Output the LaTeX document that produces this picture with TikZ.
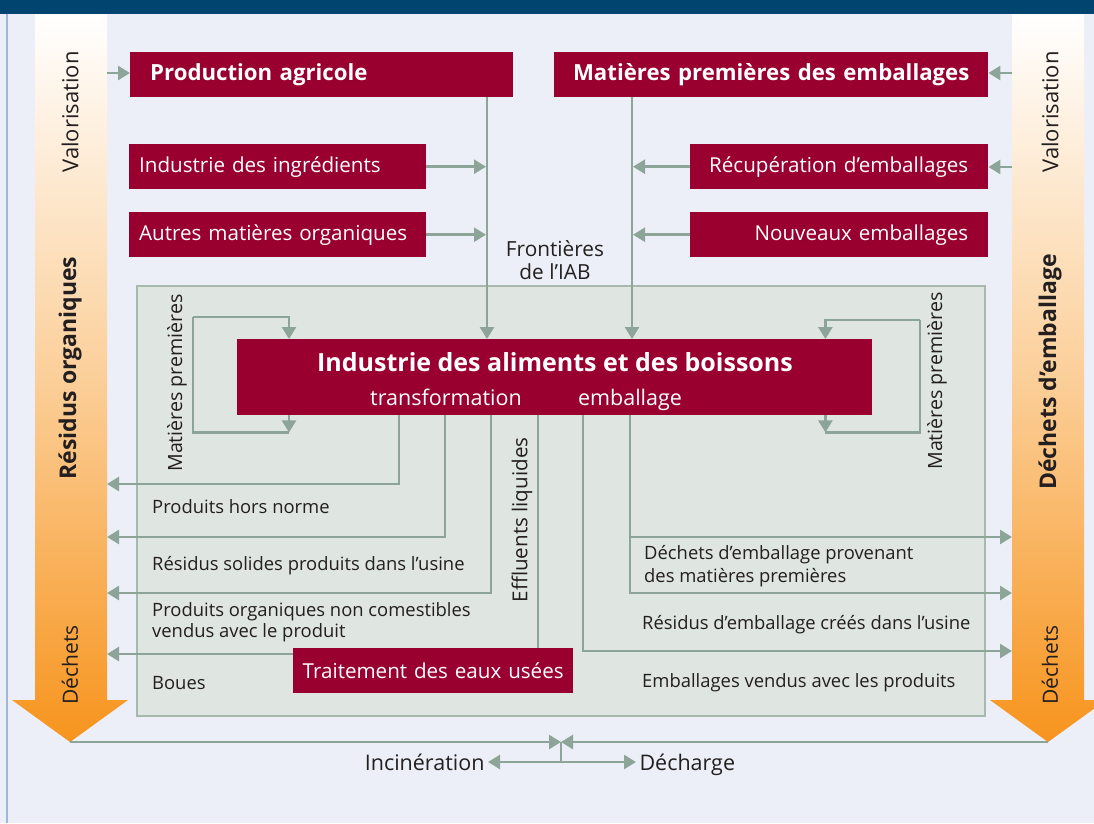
\documentclass[tikz,border=0pt]{standalone}
\usepackage{fontspec}
\setmainfont{Open Sans}
\usepackage{tikz}
\usetikzlibrary{arrows.meta}
\definecolor{crimson}{HTML}{99002F}
\definecolor{navy}{HTML}{00446F}
\definecolor{paper}{HTML}{ECEFF7}
\definecolor{panel}{HTML}{DFE5E0}
\definecolor{panelline}{HTML}{A7B8AD}
\definecolor{flowgreen}{HTML}{8DA598}
\definecolor{deeporange}{HTML}{F7941D}
\definecolor{ink}{HTML}{231F20}
\definecolor{edgeblue}{HTML}{A0B6E0}
\newcommand{\fs}[1]{\fontsize{#1}{1.25\dimexpr #1pt\relax}\selectfont}

\begin{document}
\begin{tikzpicture}[x=1pt, y=-1pt,
    redbox/.style={fill=crimson, text=white, anchor=north west, minimum height=45pt,
      inner ysep=0pt, inner xsep=10pt, font=\fs{20.6}},
    line/.style={draw=flowgreen, line width=2.6pt},
    flow/.style={line, -{Triangle[length=12pt, width=14pt]}},
    lbl/.style={text=ink, font=\fs{18.4}, inner sep=0pt},
    coltxt/.style={text=ink, font=\fs{22}, rotate=90}]
  \useasboundingbox (0,0) rectangle (1094,823);
  \fill[paper] (0,0) rectangle (1094,823);
  \fill[navy] (0,0) rectangle (1094,14);
  \draw[edgeblue, line width=1.2pt] (7,14) -- (7,823);

  % colonnes
  \shade[top color=white, bottom color=deeporange, middle color={deeporange!45}]
    (35,14) -- (107,14) -- (107,700) -- (128,700) -- (70,742) -- (12,700) -- (35,700) -- cycle;
  \shade[top color=white, bottom color=deeporange, middle color={deeporange!45}]
    (1012,14) -- (1084,14) -- (1084,700) -- (1106,700) -- (1048,742) -- (990,700) -- (1012,700) -- cycle;
  \node[coltxt] (lvalo) at (70,112) {Valorisation};
  \node[coltxt, font=\bfseries\fs{23}] (lresid) at (70,368) {Résidus organiques};
  \node[coltxt, font=\fs{21}] (ldech) at (70,665) {Déchets};
  \node[coltxt] (rvalo) at (1050,112) {Valorisation};
  \node[coltxt, font=\bfseries\fs{23}] (rdechemb) at (1050,372) {Déchets d’emballage};
  \node[coltxt, font=\fs{21}] (rdech) at (1050,665) {Déchets};

  % frontieres
  \draw[panelline, fill=panel, line width=1.2pt] (137,286) rectangle (985,716);
  \node[text=ink, font=\fs{20.8}, align=center] (front) at (555,260) {Frontières\\[-3pt]de l’IAB};

  % boites
  \node[redbox, text width=343pt, inner xsep=20pt, align=left, font=\bfseries\fs{22.2}] (agri) at (130,52) {Production agricole};
  \node[redbox, text width=414pt, align=center, font=\bfseries\fs{22.2}] (mpemb) at (554,52) {Matières premières des emballages};
  \node[redbox, text width=277pt, align=left] (ingr) at (129,144) {Industrie des ingrédients};
  \node[redbox, text width=277pt, align=left] (autres) at (129,212) {Autres matières organiques};
  \node[redbox, text width=278pt, align=right] (recup) at (690,144) {Récupération d’emballages\hspace*{10pt}};
  \node[redbox, text width=278pt, align=right] (nouv) at (690,212) {Nouveaux emballages\hspace*{10pt}};
  \node[redbox, minimum width=635pt, minimum height=76pt, inner sep=0pt] (iab) at (237,339) {};
  \node[text=white, font=\bfseries\fs{25}] (iabtitre) at (555,362) {Industrie des aliments et des boissons};
  \node[text=white, font=\fs{21.5}, anchor=base] (transf) at (446,405) {transformation};
  \node[text=white, font=\fs{21.5}, anchor=base] (embal) at (630,405) {emballage};
  \node[redbox, text width=274pt, inner xsep=3pt, align=center] (trait) at (293,648) {Traitement des eaux usées};

  % abscisses
  \coordinate (xin) at (487,0);
  \coordinate (xpk) at (632,0);
  \coordinate (xhors) at (399,0);
  \coordinate (xsol) at (445,0);
  \coordinate (xorg) at (491,0);
  \coordinate (xeff) at (538,0);
  \coordinate (xvend) at (583,0);
  \coordinate (xdec) at (630,0);

  % entrees
  \coordinate (lin) at (107,73);
  \coordinate (rin) at (1012,73);
  \coordinate (rrec) at (1012,167);
  \draw[flow] (lin) -- (agri.west |- lin);
  \draw[flow] (rin) -- (mpemb.east |- rin);
  \draw[flow] (rrec) -- (recup.east |- rrec);
  \draw[flow] (agri.south -| xin) -- (iab.north -| xin);
  \draw[flow] (mpemb.south -| xpk) -- (iab.north -| xpk);
  \draw[flow] (ingr.east) -- ([xshift=-1]ingr.east -| xin);
  \draw[flow] (autres.east) -- ([xshift=-1]autres.east -| xin);
  \draw[flow] (recup.west) -- ([xshift=1]recup.west -| xpk);
  \draw[flow] (nouv.west) -- ([xshift=1]nouv.west -| xpk);

  % boucles
  \coordinate (lloop) at (193,317);
  \coordinate (rloop) at (920,320);
  \draw[flow] ([xshift=52]iab.south west) -- ++(0,17) coordinate (lloopb);
  \draw[line] (lloopb) -| (lloop);
  \draw[flow] (lloop) -| ([xshift=52]iab.north west);
  \draw[flow] ([xshift=-47]iab.south east) -- ++(0,17) coordinate (rloopb);
  \draw[line] (rloopb) -| (rloop);
  \draw[flow] (rloop) -| ([xshift=-47]iab.north east);
  \node[coltxt, font=\fs{19.6}] (lmp) at (177,383) {Matières premières};
  \node[coltxt, font=\fs{19.6}] (rmp) at (937,381) {Matières premières};

  % sorties organiques
  \coordinate (lhors) at (107,484);
  \coordinate (lsol) at (107,537);
  \coordinate (lorg) at (107,593);
  \coordinate (lboue) at (107,654);
  \draw[flow] (iab.south -| xhors) |- (lhors);
  \draw[flow] (iab.south -| xsol) |- (lsol);
  \draw[flow] (iab.south -| xorg) |- (lorg);
  \draw[line] (iab.south -| xeff) -- (trait.north -| xeff);
  \draw[flow] ([yshift=-6]trait.north west) -- (lboue);
  \node[coltxt, font=\fs{20.6}] (effl) at (522,520) {Effluents liquides};
  \node[lbl, anchor=west] (thors) at (152,507) {Produits hors norme};
  \node[lbl, anchor=west] (tsol) at (152,566) {Résidus solides produits dans l’usine};
  \node[lbl, anchor=north west, align=left] (torg) at (152,602) {Produits organiques non comestibles\\[-2pt]vendus avec le produit};
  \node[lbl, anchor=west] (tboue) at (152,683) {Boues};

  % sorties emballages
  \coordinate (rdec) at (1012,537);
  \coordinate (rres) at (1012,593);
  \coordinate (rvend) at (1012,651);
  \draw[flow] (iab.south -| xvend) |- (rvend);
  \draw[flow] (iab.south -| xdec) |- (rres);
  \draw[flow] (xdec |- rdec) -- (rdec);
  \node[lbl, anchor=north west, align=left] (tdec) at (644,545) {Déchets d’emballage provenant\\[0pt]des matières premières};
  \node[lbl, anchor=west] (tres) at (642,625) {Résidus d’emballage créés dans l’usine};
  \node[lbl, anchor=west] (tvend) at (642,683) {Emballages vendus avec les produits};

  % elimination
  \coordinate (ltip) at (70,742);
  \coordinate (rtip) at (1048,742);
  \coordinate (jonc) at (561,742);
  \coordinate (jonb) at (561,762);
  \node[text=ink, font=\fs{21.5}, anchor=base east] (incin) at (488,770) {Incinération};
  \node[text=ink, font=\fs{21.5}, anchor=base west] (decha) at (636,770) {Décharge};
  \draw[flow] (ltip) -- (jonc);
  \draw[flow] (rtip) -- (jonc);
  \draw[line] (jonc) -- (jonb);
  \draw[flow] (jonb) -- (jonb -| incin.east);
  \draw[flow] (jonb) -- (jonb -| decha.west);
\end{tikzpicture}
\end{document}
